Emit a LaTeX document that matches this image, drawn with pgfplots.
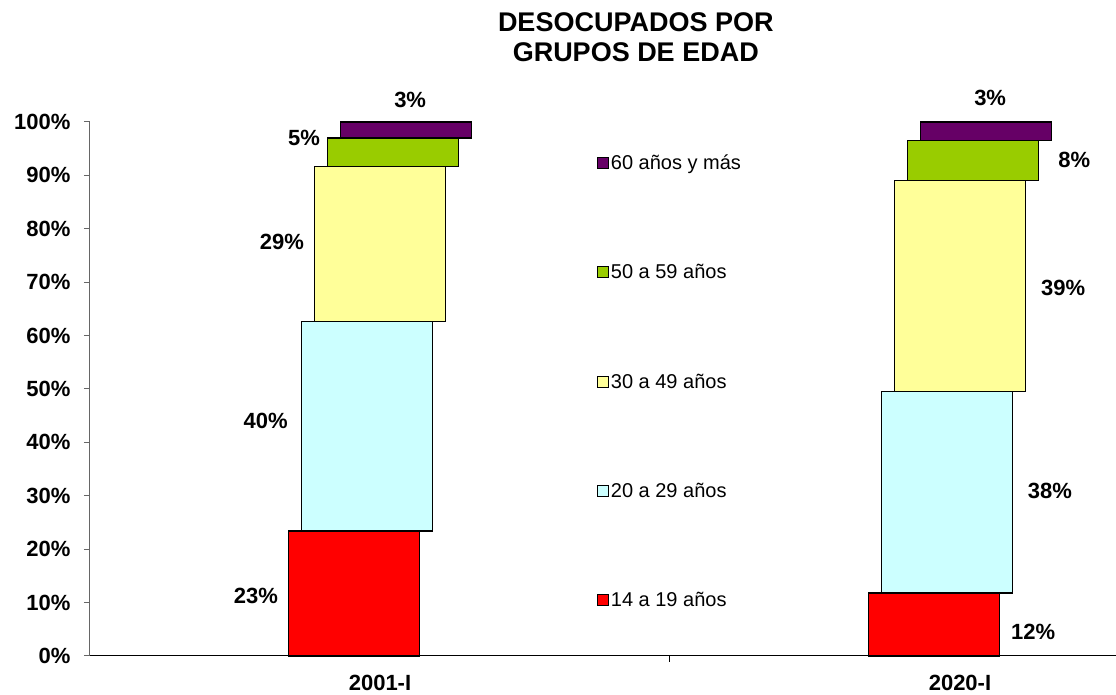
\documentclass[border=0pt]{standalone}
\usepackage{fontspec}
\setmainfont{Liberation Sans}
\usepackage{pgfplots}
\pgfplotsset{compat=1.18}
\definecolor{cpurple}{HTML}{660066}
\definecolor{cgreen}{HTML}{99CC00}
\definecolor{cyellow}{HTML}{FFFF99}
\definecolor{ccyan}{HTML}{CCFFFF}
\definecolor{cred}{HTML}{FF0000}
\tikzset{lbl/.style={font=\bfseries\fontsize{22}{26}\selectfont},
  ttl/.style={font=\bfseries\fontsize{27}{30}\selectfont}}
\begin{document}
\begin{tikzpicture}
\begin{axis}[
  scale only axis, width=1026pt, height=534pt,
  xmin=0, xmax=1.769, ymin=0, ymax=100,
  clip=false,
  ybar stacked, bar width=131pt,
  axis x line*=bottom, axis y line*=left,
  x axis line style={black, line width=1pt},
  y axis line style={black!60, line width=1pt},
  xtick={0.5,1.5}, xticklabels={2001-I,2020-I},
  xtick style={draw=none},
  ytick={0,10,...,100},
  ytick style={black!60, line width=1pt},
  yticklabel={\pgfmathprintnumber[assume math mode=true]{\tick}\%},
  tick align=outside,
  major tick length=6pt,
  yticklabel style={font=\bfseries\fontsize{22}{26}\selectfont, xshift=-10pt},
  xticklabel style={font=\bfseries\fontsize{22}{26}\selectfont, yshift=-10pt},
  reverse legend,
  legend image code/.code={\draw[#1,draw=black,line width=0.8pt] (0pt,-5.5pt) rectangle (11pt,5.5pt);},
  legend cell align=left,
  legend style={at={(axis cs:0.874,94.3)}, anchor=north west, draw=none, fill=none,
    font=\fontsize{20}{24}\selectfont, row sep=89.5pt, inner sep=0pt},
]
\addplot[fill=cred, draw=black, line width=1.2pt] coordinates {(0.4552,23.4) (1.4552,11.8)};
\addplot[fill=ccyan, draw=black, line width=1.2pt] coordinates {(0.4776,39.3) (1.4776,37.8)};
\addplot[fill=cyellow, draw=black, line width=1.2pt] coordinates {(0.5,28.9) (1.5,39.5)};
\addplot[fill=cgreen, draw=black, line width=1.2pt] coordinates {(0.5224,5.4) (1.5224,7.5)};
\addplot[fill=cpurple, draw=black, line width=1.2pt] coordinates {(0.5448,3.0) (1.5448,3.4)};
\legend{14 a 19 años, 20 a 29 años, 30 a 49 años, 50 a 59 años, 60 años y más}
\draw[black, line width=1pt] (axis cs:1,0) -- ++(0pt,-6pt);
\node[lbl] at (axis cs:0.552,104.1) {3\%};
\node[lbl] at (axis cs:0.369,97.0) {5\%};
\node[lbl] at (axis cs:0.331,77.5) {29\%};
\node[lbl] at (axis cs:0.303,44.0) {40\%};
\node[lbl] at (axis cs:0.286,11.2) {23\%};
\node[lbl] at (axis cs:1.552,104.5) {3\%};
\node[lbl] at (axis cs:1.697,92.9) {8\%};
\node[lbl] at (axis cs:1.678,68.9) {39\%};
\node[lbl] at (axis cs:1.655,30.9) {38\%};
\node[lbl] at (axis cs:1.626,4.5) {12\%};
\node[ttl] at (axis cs:0.941,118.7) {DESOCUPADOS POR};
\node[ttl] at (axis cs:0.941,113.1) {GRUPOS DE EDAD};
\end{axis}
\pgfresetboundingbox
\path[use as bounding box] (current axis.south west) ++(-90pt,-39pt) rectangle ++(1116pt,695pt);
\end{tikzpicture}
\end{document}
